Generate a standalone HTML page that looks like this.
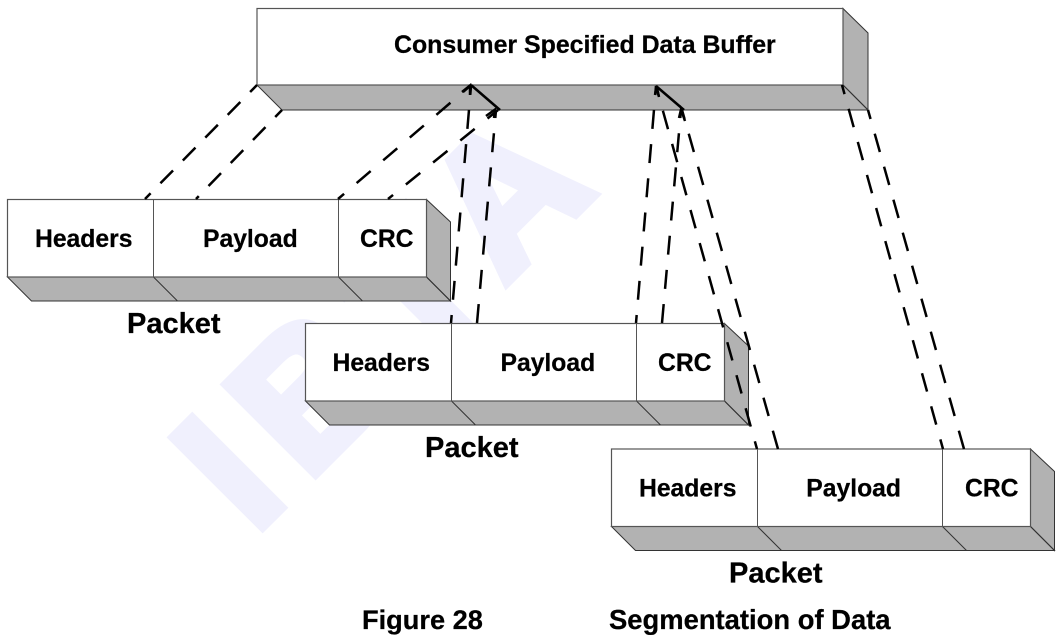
<!DOCTYPE html>
<html><head><meta charset="utf-8"><style>
html,body{margin:0;padding:0;background:#fff}
svg{display:block}
text{font-family:"Liberation Sans",Arial,sans-serif;font-weight:bold;fill:#000;stroke:#000;stroke-width:.25}
.s{fill:#b2b2b2;stroke:#333;stroke-width:1}
.f{fill:#fff;stroke:#555;stroke-width:1.2}
.d{stroke:#000;stroke-width:2.5;fill:none}
.n{stroke-dasharray:19 15.3}
.w{stroke-dasharray:18.5 16.5}
.a{stroke:#000;stroke-width:2.5;fill:none}
.m{font-size:24.7px}
.p{font-size:29px}
</style></head><body>
<svg width="1060" height="635" viewBox="0 0 1060 635" xmlns="http://www.w3.org/2000/svg">
<rect width="1060" height="635" fill="#fff"/>
<text x="254" y="535" transform="rotate(-45 254 535)" style="font-size:183px;letter-spacing:24px;fill:#f0f0fd;stroke:#f0f0fd;stroke-width:10;stroke-linejoin:miter">IBTA</text>

<g>
<polygon class="s" points="843,8.5 868,33 868,110 843,85"/>
<polygon class="s" points="257,85 843,85 868,110 282,110"/>
<line x1="843" y1="85" x2="868" y2="110" stroke="#333"/>
<rect class="f" x="257" y="8.5" width="586" height="76.5"/>
<text x="394" y="53" style="font-size:24.9px">Consumer Specified Data Buffer</text>
</g>

<g>
<polygon class="s" points="426.5,199.5 450.5,222 450.5,301 426.5,277"/>
<polygon class="s" points="7.5,277 426.5,277 450.5,301 31.5,301"/>
<path d="M153.5 277L177.5 301M338.5 277L362.5 301M426.5 277L450.5 301" stroke="#333" fill="none"/>
<rect class="f" x="7.5" y="199.5" width="419" height="77.5"/>
<path d="M153.5 199.5V277M338.5 199.5V277" stroke="#555" fill="none"/>
<text x="35" y="247" class="m">Headers</text>
<text x="203" y="247" class="m">Payload</text>
<text x="360" y="247" class="m">CRC</text>
<text x="127" y="333" class="p">Packet</text>
</g>

<g transform="translate(298,124)">
<polygon class="s" points="426.5,199.5 450.5,222 450.5,301 426.5,277"/>
<polygon class="s" points="7.5,277 426.5,277 450.5,301 31.5,301"/>
<path d="M153.5 277L177.5 301M338.5 277L362.5 301M426.5 277L450.5 301" stroke="#333" fill="none"/>
<rect class="f" x="7.5" y="199.5" width="419" height="77.5"/>
<path d="M153.5 199.5V277M338.5 199.5V277" stroke="#555" fill="none"/>
<text x="34.500" y="247" class="m">Headers</text>
<text x="202.500" y="247" class="m">Payload</text>
<text x="360" y="247" class="m">CRC</text>
<text x="127" y="333" class="p">Packet</text>
</g>

<g transform="translate(604,249.5)">
<polygon class="s" points="426.5,199.5 450.5,222 450.5,301 426.5,277"/>
<polygon class="s" points="7.5,277 426.5,277 450.5,301 31.5,301"/>
<path d="M153.5 277L177.5 301M338.5 277L362.5 301M426.5 277L450.5 301" stroke="#333" fill="none"/>
<rect class="f" x="7.5" y="199.5" width="419" height="77.5"/>
<path d="M153.5 199.5V277M338.5 199.5V277" stroke="#555" fill="none"/>
<text x="35" y="247" class="m">Headers</text>
<text x="202.300" y="247" class="m">Payload</text>
<text x="361" y="247" class="m">CRC</text>
<text x="125" y="333" class="p">Packet</text>
</g>

<line class="d" x1="145" y1="199" x2="257" y2="85" stroke-dasharray="18 14" stroke-dashoffset="10"/>
<line class="d" x1="196" y1="199" x2="282" y2="110" stroke-dasharray="18 14" stroke-dashoffset="14"/>
<line class="d w" x1="338" y1="199" x2="470" y2="86" stroke-dashoffset="10.500"/>
<line class="d w" x1="388" y1="199" x2="498" y2="110" stroke-dashoffset="12"/>
<line class="d n" x1="451" y1="323" x2="471" y2="86" stroke-dashoffset="11"/>
<line class="d n" x1="477" y1="323" x2="496" y2="110"/>
<line class="d n" x1="636" y1="323" x2="656" y2="86" stroke-dashoffset="11"/>
<line class="d n" x1="662" y1="323" x2="681" y2="110"/>
<line class="d n" x1="757" y1="449" x2="656" y2="86" stroke-dashoffset="11"/>
<line class="d n" x1="778" y1="449" x2="682" y2="110"/>
<line class="d n" x1="943" y1="449" x2="842" y2="85" stroke-dashoffset="9"/>
<line class="d n" x1="964" y1="449" x2="868" y2="110"/>

<path class="a" d="M471 85L500 110M462 92L470 85.500L470 95"/>
<path class="a" d="M486 116L495 109.500L494 118"/>
<path class="a" d="M656 86L684 110M655 95L656.500 86L659 97"/>
<path class="a" d="M679 118L681 109.500L685 121"/>

<text x="362" y="629" style="font-size:27.2px">Figure 28</text>
<text x="609" y="629" style="font-size:27.4px">Segmentation of Data</text>
</svg>
</body></html>
